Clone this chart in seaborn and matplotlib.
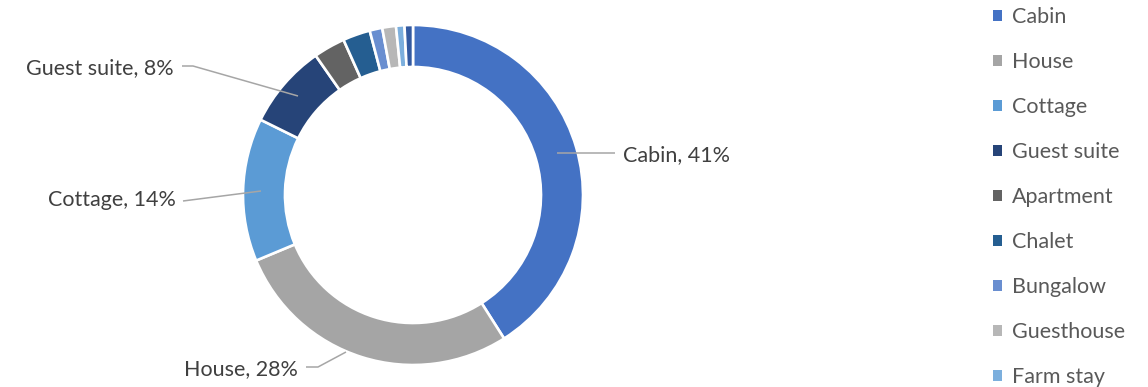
import matplotlib
matplotlib.use("Agg")
import matplotlib.pyplot as plt
import seaborn as sns

# Share of listings by property type (percent)
categories = ["Cabin", "House", "Cottage", "Guest suite", "Apartment", "Chalet",
              "Bungalow", "Guesthouse", "Farm stay", "Tiny house"]
shares = [41.0, 27.7, 13.6, 8.0, 3.0, 2.6, 1.2, 1.3, 0.8, 0.8]
palette_hex = ["#4472C4", "#A5A5A5", "#5B9BD5", "#264478", "#636363",
               "#255E91", "#698ED0", "#B7B7B7", "#7CAFDD", "#335AA1"]
labelled = ["Cabin", "House", "Cottage", "Guest suite"]
legend_rows = 9

sns.set_theme(style="white")
plt.rcParams["font.family"] = ["Lato", "DejaVu Sans"]

W, H = 1148, 387
fig = plt.figure(figsize=(W / 100, H / 100), dpi=100)
ax = fig.add_axes([0, 0, 1, 1])
ax.set_xlim(0, W)
ax.set_ylim(0, H)
ax.set_aspect("equal")
ax.axis("off")

colors = sns.color_palette(palette_hex)
cx, cy, r = 413, H - 195, 170
wedges, _ = ax.pie(shares, colors=colors, startangle=90, counterclock=False,
                   radius=r, center=(cx, cy),
                   wedgeprops=dict(width=r * 0.247, edgecolor="white", linewidth=1.9))
ax.set_xlim(0, W)
ax.set_ylim(0, H)

total = sum(shares)
label_color = "#404040"
line_color = "#A6A6A6"
fs = 15.5

# Leader lines and callout text (pixel coordinates, y from top)
callouts = {
    "Cabin": dict(path=[(557, 153), (615, 153)], text=(623, 155), ha="left"),
    "House": dict(path=[(346, 352), (318, 367), (306, 367)], text=(298, 369), ha="right"),
    "Cottage": dict(path=[(261, 191), (183, 201)], text=(176, 200), ha="right"),
    "Guest suite": dict(path=[(298, 96), (193, 66), (182, 66)], text=(174, 68), ha="right"),
}
for name in labelled:
    i = categories.index(name)
    pct = shares[i] / total * 100
    c = callouts[name]
    xs = [p[0] for p in c["path"]]
    ys = [H - p[1] for p in c["path"]]
    ax.plot(xs, ys, color=line_color, lw=1.1, solid_capstyle="butt")
    tx, ty = c["text"]
    ax.text(tx, H - ty, f"{name}, {pct:.0f}%", ha=c["ha"], va="center",
            fontsize=fs, color=label_color)

leg = ax.legend(wedges[:legend_rows], categories[:legend_rows], loc="upper left",
                bbox_to_anchor=(993 / W, 1.0 - 7 / H), bbox_transform=fig.transFigure,
                frameon=False, fontsize=fs, labelcolor="#595959",
                handlelength=0.42, handleheight=0.42, handletextpad=0.45,
                labelspacing=1.16, borderaxespad=0, borderpad=0)
for h in leg.legend_handles:
    h.set_linewidth(0)

fig.savefig("out.png", dpi=100)
